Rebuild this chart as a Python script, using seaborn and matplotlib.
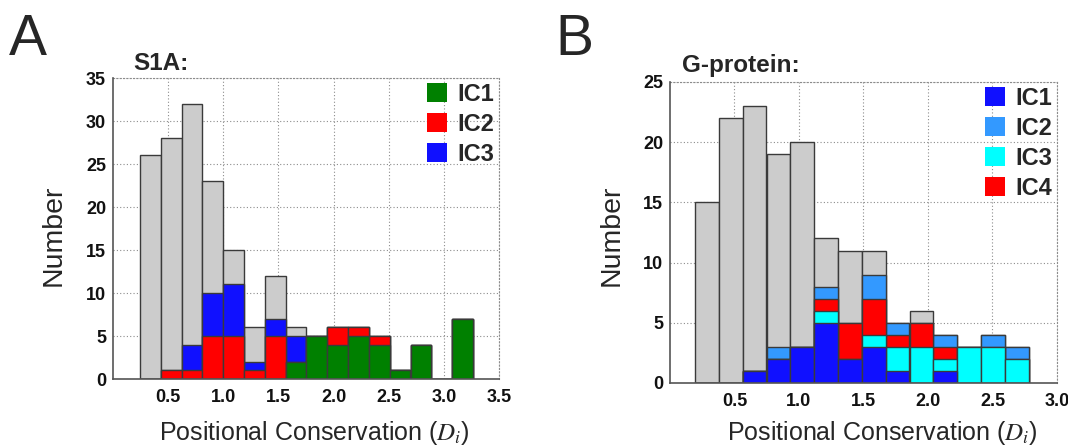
import numpy as np
import pandas as pd
import matplotlib
matplotlib.use("Agg")
import matplotlib.pyplot as plt
from matplotlib.patches import Patch
import seaborn as sns

# ---------------- data ----------------
# Panel A (S1A) - bin centres of positional conservation
a_centers = [0.339, 0.528, 0.716, 0.905, 1.094, 1.282, 1.471, 1.660,
             1.848, 2.037, 2.226, 2.414, 2.603, 2.792, 2.980, 3.169]
a_total = [26, 28, 32, 23, 15, 6, 12, 6, 5, 6, 6, 5, 1, 4, 0, 7]
a_ic1 = [0, 0, 0, 0, 0, 0, 0, 2, 5, 4, 5, 4, 1, 4, 0, 7]
a_ic2 = [0, 1, 1, 5, 5, 1, 5, 0, 0, 2, 1, 1, 0, 0, 0, 0]
a_ic3 = [0, 0, 3, 5, 6, 1, 2, 3, 0, 0, 0, 0, 0, 0, 0, 0]
a_labels = ["IC1", "IC2", "IC3"]
a_xticks = [0.5, 1.0, 1.5, 2.0, 2.5, 3.0, 3.5]
a_yticks = [0, 5, 10, 15, 20, 25, 30, 35]

# Panel B (G-protein)
b_centers = [0.286, 0.471, 0.656, 0.841, 1.025, 1.210, 1.395, 1.579,
             1.764, 1.949, 2.133, 2.318, 2.503, 2.688]
b_total = [15, 22, 23, 19, 20, 12, 11, 11, 5, 6, 4, 3, 4, 3]
b_ic1 = [0, 0, 1, 2, 3, 5, 2, 3, 1, 0, 1, 0, 0, 0]
b_ic2 = [0, 0, 0, 1, 0, 1, 0, 2, 1, 0, 1, 0, 1, 1]
b_ic3 = [0, 0, 0, 0, 0, 1, 0, 1, 2, 3, 1, 3, 3, 2]
b_ic4 = [0, 0, 0, 0, 0, 1, 3, 3, 1, 2, 1, 0, 0, 0]
b_labels = ["IC1", "IC2", "IC3", "IC4"]
b_xticks = [0.5, 1.0, 1.5, 2.0, 2.5, 3.0]
b_yticks = [0, 5, 10, 15, 20, 25]

# ---------------- style ----------------
sns.set_theme(style="white")
plt.rcParams['font.family'] = ['Liberation Sans', 'DejaVu Sans']
plt.rcParams['mathtext.fontset'] = 'stix'

GRAY = "#cccccc"
GREEN = "#008000"
RED = "#ff0000"
BLUE = "#1010ff"
LBLUE = "#3399ff"
CYAN = "#00ffff"
EDGE = "#3a3a3a"

fig = plt.figure(figsize=(10.68, 4.46), dpi=100)
axA = fig.add_axes([0.1058, 0.1502, 0.3614, 0.6749])
axB = fig.add_axes([0.6273, 0.1413, 0.3624, 0.6749])


def stacked(ax, centers, total, layers, colors):
    df = pd.DataFrame({"x": centers, "total": total})
    sns.barplot(data=df, x="x", y="total", native_scale=True, width=1.0,
                color=GRAY, edgecolor=EDGE, linewidth=1.0, saturation=1,
                errorbar=None, ax=ax, zorder=3)
    cum = np.cumsum(np.array(layers), axis=0)
    for i in range(len(layers) - 1, -1, -1):
        d = pd.DataFrame({"x": centers, "y": cum[i]})
        sns.barplot(data=d, x="x", y="y", native_scale=True, width=1.0,
                    color=colors[i], edgecolor=EDGE, linewidth=1.0,
                    saturation=1, errorbar=None, ax=ax, zorder=3)


def style(ax, xlim, ylim, xticks, yticks, xlab_xy, ylab_xy):
    ax.set_xlim(*xlim)
    ax.set_ylim(*ylim)
    ax.set_xticks(xticks)
    ax.set_yticks(yticks)
    ax.set_xticklabels([f"{t:.1f}" for t in xticks], fontweight="bold", fontsize=13)
    ax.set_yticklabels([str(t) for t in yticks], fontweight="bold", fontsize=13)
    ax.tick_params(axis="both", length=0, pad=5, colors="#111111")
    ax.tick_params(axis="x", pad=7)
    ax.grid(True, linestyle=(0, (1, 2)), color="#8c8c8c", linewidth=0.8, zorder=0)
    ax.set_axisbelow(True)
    for s in ["left", "bottom"]:
        ax.spines[s].set_color("#555555")
        ax.spines[s].set_linewidth(1.2)
        ax.spines[s].set_zorder(5)
    for s in ["top", "right"]:
        ax.spines[s].set_color("#8c8c8c")
        ax.spines[s].set_linewidth(0.8)
        ax.spines[s].set_linestyle((0, (1, 2)))
    ax.set_xlabel(r"Positional Conservation ($D_i$)", fontsize=18)
    ax.set_ylabel("Number", fontsize=20.5)
    ax.xaxis.set_label_coords(*xlab_xy)
    ax.yaxis.set_label_coords(*ylab_xy)


stacked(axA, a_centers, a_total, [a_ic1, a_ic2, a_ic3], [GREEN, RED, BLUE])
style(axA, (0, 3.5), (0, 35), a_xticks, a_yticks, (0.523, -0.133), (-0.119, 0.478))
stacked(axB, b_centers, b_total, [b_ic1, b_ic3, b_ic4, b_ic2], [BLUE, CYAN, RED, LBLUE])
style(axB, (0, 3.0), (0, 25), b_xticks, b_yticks, (0.548, -0.12), (-0.116, 0.49))

legA = [Patch(facecolor=c, edgecolor="none") for c in [GREEN, RED, BLUE]]
axA.legend(legA, a_labels, loc="upper right", bbox_to_anchor=(1.0, 1.0),
           frameon=False, prop={"weight": "bold", "size": 17},
           handlelength=0.85, handleheight=0.85, handletextpad=0.45,
           labelspacing=0.3, borderaxespad=0.1, borderpad=0.1)
legB = [Patch(facecolor=c, edgecolor="none") for c in [BLUE, LBLUE, CYAN, RED]]
axB.legend(legB, b_labels, loc="upper right", bbox_to_anchor=(1.0, 1.0),
           frameon=False, prop={"weight": "bold", "size": 17},
           handlelength=0.85, handleheight=0.85, handletextpad=0.45,
           labelspacing=0.3, borderaxespad=0.1, borderpad=0.1)

fig.text(9 / 1068, 1 - 55 / 446, "A", fontsize=41, va="baseline", ha="left")
fig.text(555 / 1068, 1 - 55 / 446, "B", fontsize=41, va="baseline", ha="left")
fig.text(133 / 1068, 1 - 70 / 446, "S1A:", fontsize=17.5, fontweight="bold",
         va="baseline", ha="left")
fig.text(682 / 1068, 1 - 72 / 446, "G-protein:", fontsize=17.5, fontweight="bold",
         va="baseline", ha="left")

fig.savefig("out.png", dpi=100)
